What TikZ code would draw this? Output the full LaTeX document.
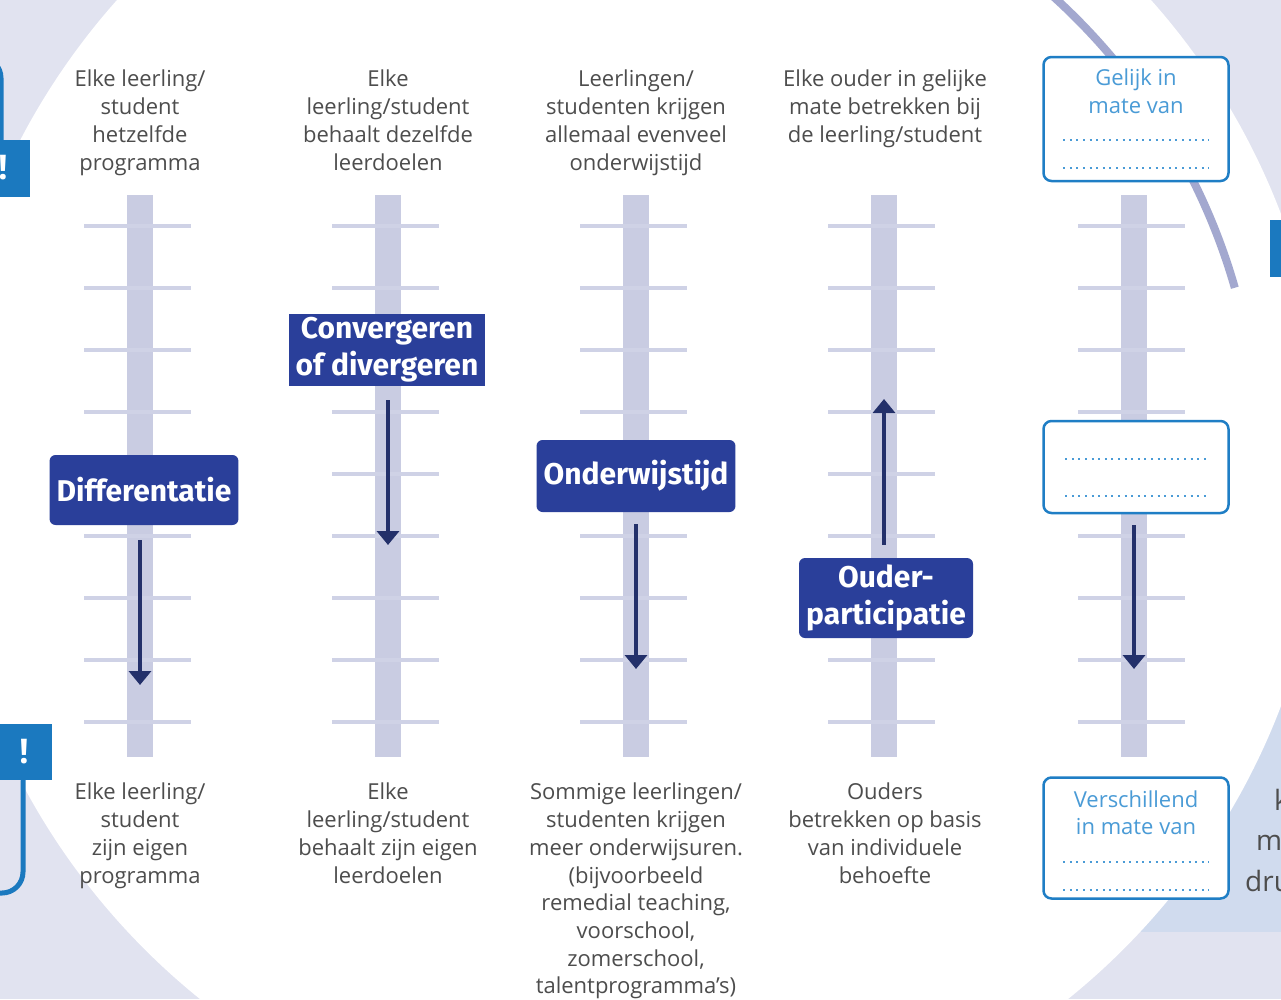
\documentclass[tikz,border=0pt]{standalone}
\usepackage{fontspec}
\setmainfont{Open Sans}
\newfontfamily\kopfont{Fira Sans}
\usepackage{xcolor}
\usetikzlibrary{arrows.meta,positioning,calc}

\definecolor{lavendel}{HTML}{E1E3F0}
\definecolor{lichtblauw}{HTML}{D0DBEE}
\definecolor{paal}{HTML}{C9CCE2}
\definecolor{streepkleur}{HTML}{CFD2E6}
\definecolor{donkerblauw}{HTML}{2A3F9A}
\definecolor{pijlblauw}{HTML}{23306A}
\definecolor{lijnblauw}{HTML}{1F7EC5}
\definecolor{tekstblauw}{HTML}{4A9BD6}
\definecolor{uitroep}{HTML}{1B79BF}
\definecolor{grijs}{HTML}{4D4D4D}
\definecolor{boogkleur}{HTML}{A3A8CF}

\begin{document}
\begin{tikzpicture}[x=1pt, y=-1pt, >={Triangle[width=22pt,length=14pt]},
  font=\fontsize{22}{27.7}\selectfont]
	\tikzstyle{kop}=[fill=donkerblauw, text=white, rounded corners=6pt, align=center,
	  font=\kopfont\bfseries\fontsize{30}{37}\selectfont, inner xsep=7pt, inner ysep=3pt]
	\tikzstyle{tekst}=[text=grijs, align=center, inner sep=0pt]
	\tikzstyle{invul}=[draw=lijnblauw, line width=2.5pt, fill=white, rounded corners=8pt,
	  minimum width=185pt]
	\tikzstyle{invultekst}=[text=tekstblauw, align=center, inner sep=0pt, anchor=north]
	\tikzstyle{stippel}=[tekstblauw, line width=2pt, dash pattern=on 2pt off 4.6pt]
	\tikzstyle{pijl}=[->, draw=pijlblauw, line width=4pt]
	\tikzstyle{streep}=[streepkleur, line width=4pt]
	\tikzstyle{haak}=[uitroep, line width=5pt, rounded corners=21pt]
	\tikzstyle{uitroepteken}=[text=white, font=\bfseries\fontsize{34}{34}\selectfont]

	\clip (0,0) rectangle (1281,999);
	% achtergrond met witte cirkel
	\fill[lavendel] (0,0) rectangle (1281,999);
	\fill[lichtblauw] (1100,600) rectangle (1281,932);
	\fill[white] (634,460) circle (692);
	\draw[boogkleur, line width=8pt] (634,460) ++(-52:625) arc[start angle=-52, end angle=-16, radius=625];

	% uitroeptekens aan de randen
	\draw[haak] (-30,57) -- (1,57) -- (1,140);
	\draw[haak] (23,780) -- (23,893) -- (-30,893);
	\fill[uitroep] (-24,140) rectangle (30,197);
	\node[uitroepteken] (uitroep1) at (3,168) {!};
	\fill[uitroep] (0,724) rectangle (52,780);
	\node[uitroepteken] (uitroep2) at (24,752) {!};
	\fill[uitroep] (1270,220) rectangle (1330,277);

	% palen met streepjes
	\foreach \x in {140,388,636,884,1134}{
	  \fill[paal] (\x-13,195) rectangle (\x+13,757);
	  \foreach \y in {226,288,...,722}
	    \draw[streep] (\x-56,\y) -- (\x+51,\y);
	}

	% teksten boven
	\node[tekst, anchor=north] (boven1) at (140,70) {Elke leerling/\\student\\hetzelfde\\programma};
	\node[tekst, anchor=north] (boven2) at (388,70) {Elke\\leerling/student\\behaalt dezelfde\\leerdoelen};
	\node[tekst, anchor=north] (boven3) at (636,70) {Leerlingen/\\studenten krijgen\\allemaal evenveel\\onderwijstijd};
	\node[tekst, anchor=north] (boven4) at (885,70) {Elke ouder in gelijke\\mate betrekken bij\\de leerling/student};

	% teksten onder
	\node[tekst, anchor=north] (onder1) at (140,783) {Elke leerling/\\student\\zijn eigen\\programma};
	\node[tekst, anchor=north] (onder2) at (388,783) {Elke\\leerling/student\\behaalt zijn eigen\\leerdoelen};
	\node[tekst, anchor=north] (onder3) at (636,783) {Sommige leerlingen/\\studenten krijgen\\meer onderwijsuren.\\(bijvoorbeeld\\remedial teaching,\\voorschool,\\zomerschool,\\talentprogramma’s)};
	\node[tekst, anchor=north] (onder4) at (885,783) {Ouders\\betrekken op basis\\van individuele\\behoefte};

	% kopjes
	\node[kop, minimum height=70pt, minimum width=184pt] (diff) at (144,490) {Differentatie};
	\node[kop, sharp corners, minimum height=72pt, minimum width=194pt] (conv) at (387,350) {Convergeren\\of divergeren};
	\node[kop, minimum height=72pt, minimum width=197pt] (tijd) at (636,476) {Onderwijstijd};
	\node[kop, minimum height=80pt, minimum width=174pt] (ouder) at (886,598) {Ouder-\\participatie};

	% invulvakken
	\node[invul, minimum height=124pt] (gelijk) at (1136,119) {};
	\node[invultekst] (gelijktekst) at ($(gelijk.north)+(0,13)$) {Gelijk in\\mate van};
	\draw[stippel] ($(gelijk.south west)+(21,-42)$) -- ($(gelijk.south east)+(-21,-42)$);
	\draw[stippel] ($(gelijk.south west)+(21,-14)$) -- ($(gelijk.south east)+(-21,-14)$);
	\node[invul, minimum height=92pt] (midden) at (1136,467) {};
	\draw[stippel] ($(midden.south west)+(23,-55)$) -- ($(midden.south east)+(-21,-55)$);
	\draw[stippel] ($(midden.south west)+(23,-18)$) -- ($(midden.south east)+(-21,-18)$);
	\node[invul, minimum height=121pt] (verschil) at (1136,838) {};
	\node[invultekst] (verschiltekst) at ($(verschil.north)+(0,14)$) {Verschillend\\in mate van};
	\draw[stippel] ($(verschil.south west)+(21,-38)$) -- ($(verschil.south east)+(-21,-38)$);
	\draw[stippel] ($(verschil.south west)+(21,-10)$) -- ($(verschil.south east)+(-21,-10)$);

	% pijlen
	\coordinate (diffeind) at (140,685);
	\coordinate (conveind) at (388,545);
	\coordinate (tijdeind) at (636,669);
	\coordinate (oudereind) at (884,399);
	\coordinate (middeneind) at (1134,669);
	\draw[pijl] (diff.south -| diffeind) ++(0,15) -- (diffeind);
	\draw[pijl] (conv.south -| conveind) ++(0,14) -- (conveind);
	\draw[pijl] (tijd.south -| tijdeind) ++(0,12) -- (tijdeind);
	\draw[pijl] (ouder.north -| oudereind) ++(0,-13) -- (oudereind);
	\draw[pijl] (midden.south -| middeneind) ++(0,11) -- (middeneind);

	% afgesneden tekst rechts
	\node[text=grijs, anchor=west, inner sep=0pt, font=\fontsize{28}{28}\selectfont] (rand1) at (1274,800) {k};
	\node[text=grijs, anchor=west, inner sep=0pt, font=\fontsize{28}{28}\selectfont] (rand2) at (1256,843) {m};
	\node[text=grijs, anchor=west, inner sep=0pt, font=\fontsize{28}{28}\selectfont] (rand3) at (1245,881) {dru};
\end{tikzpicture}
\end{document}
